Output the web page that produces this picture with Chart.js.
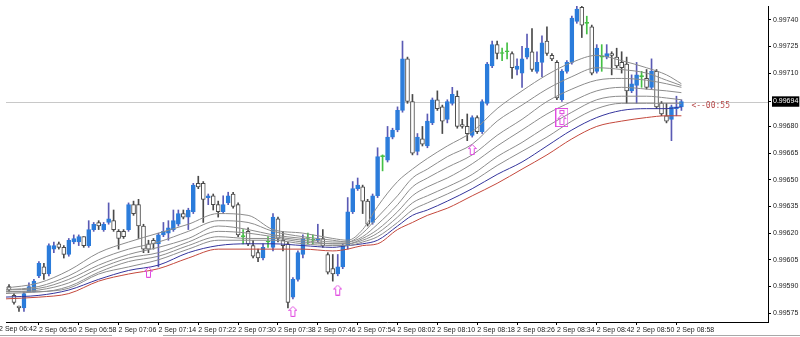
<!DOCTYPE html>
<html>
<head>
<meta charset="utf-8">
<title>M1 candles</title>
<script src="https://cdn.jsdelivr.net/npm/chart.js@4.4.1/dist/chart.umd.min.js"></script>
<style>
  html, body { margin: 0; padding: 0; background: #fff; }
  #wrap { width: 800px; height: 337px; }
</style>
</head>
<body>
<div id="wrap"><canvas id="chart" width="800" height="337"></canvas></div>
<script>
// prices are in points (1 point = 0.00001)
const firstBar = 2; // minute index of first candle (06:44), bar 0 = 06:42

const opens = [99590,99585,99579,99578,99587,99587,99596,99601,99597,99611,
  99614,99612,99608,99615,99615,99618,99613,99622,99626,99622,
  99626,99627,99621,99621,99622,99636,99636,99624,99614,99616,
  99614,99619,99620,99622,99625,99631,99629,99632,99648,99648,
  99640,99641,99636,99632,99637,99642,99636,99618,99621,99613,
  99609,99606,99615,99612,99628,99616,99614,99584,99594,99608,
  99617,99616,99616,99617,99608,99600,99597,99601,99613,99632,
  99645,99646,99638,99626,99641,99663,99661,99674,99678,99689,
  99718,99694,99666,99673,99669,99682,99695,99691,99684,99693,
  99697,99681,99680,99675,99685,99677,99693,99714,99726,99721,
  99722,99721,99712,99710,99719,99722,99711,99716,99728,99720,
  99716,99695,99711,99716,99739,99747,99738,99736,99711,99719,
  99719,99721,99719,99716,99715,99700,99703,99708,99707,99702,
  99711,99693,99686,99684,99690,99691];

const highs = [99591,99586,99579,99587,99592,99594,99604,99603,99614,99615,
  99615,99613,99617,99619,99619,99618,99627,99626,99627,99626,
  99637,99633,99622,99622,99637,99638,99639,99625,99616,99617,
  99620,99626,99627,99633,99633,99633,99634,99648,99652,99649,
  99642,99642,99638,99641,99643,99643,99637,99622,99623,99616,
  99611,99614,99618,99631,99629,99621,99615,99595,99610,99619,
  99620,99619,99625,99622,99609,99608,99608,99614,99640,99649,
  99651,99647,99639,99642,99668,99664,99680,99679,99691,99728,
  99719,99698,99676,99680,99687,99696,99700,99692,99695,99702,
  99700,99684,99687,99686,99686,99695,99716,99728,99728,99724,
  99727,99722,99718,99725,99732,99735,99722,99731,99736,99721,
  99717,99712,99717,99742,99748,99749,99742,99737,99726,99726,
  99726,99722,99724,99722,99719,99709,99716,99711,99712,99718,
  99712,99694,99693,99692,99697,99695];

const lows = [99587,99580,99576,99576,99587,99587,99595,99594,99596,99609,
  99611,99606,99607,99614,99613,99612,99612,99621,99622,99621,
  99625,99621,99611,99617,99621,99630,99617,99609,99609,99611,
  99601,99618,99616,99621,99624,99628,99622,99631,99645,99626,
  99636,99633,99629,99631,99636,99634,99618,99614,99613,99606,
  99604,99605,99612,99610,99615,99610,99578,99583,99593,99606,
  99614,99614,99615,99612,99597,99593,99596,99600,99611,99631,
  99644,99631,99624,99625,99640,99655,99660,99673,99677,99688,
  99693,99664,99664,99669,99668,99681,99689,99676,99682,99692,
  99679,99679,99672,99674,99676,99676,99692,99713,99718,99717,
  99718,99707,99709,99702,99718,99711,99710,99708,99720,99717,
  99695,99694,99710,99715,99738,99730,99732,99709,99710,99711,
  99718,99709,99713,99710,99693,99699,99693,99702,99701,99701,
  99690,99686,99682,99672,99686,99689];

const closes = [99588,99581,99578,99586,99590,99593,99603,99597,99613,99613,
  99612,99608,99616,99617,99618,99613,99622,99625,99624,99625,
  99628,99622,99617,99618,99636,99631,99624,99611,99611,99614,
  99619,99621,99623,99627,99631,99629,99633,99647,99646,99639,
  99641,99636,99632,99636,99641,99635,99619,99618,99614,99607,
  99606,99612,99615,99629,99617,99613,99581,99594,99609,99617,
  99617,99616,99617,99613,99598,99597,99601,99613,99632,99645,
  99647,99638,99625,99641,99663,99663,99674,99678,99689,99718,
  99694,99665,99674,99670,99683,99695,99690,99683,99694,99698,
  99680,99680,99676,99685,99677,99694,99715,99726,99721,99721,
  99722,99713,99714,99718,99724,99712,99716,99727,99721,99718,
  99696,99711,99716,99741,99746,99737,99738,99710,99724,99719,
  99721,99720,99714,99713,99700,99704,99709,99708,99702,99711,
  99691,99687,99683,99691,99691,99694];

// moving averages, read at these bars
const maBars = [1, 8, 14, 20, 26, 32, 38, 44, 50, 55, 61, 67, 70, 73, 76, 80, 83, 86, 90, 95, 100, 105, 110, 115, 120, 125, 130, 134, 137];
const maGray1 = [99589,99592,99599,99609,99615,99620,99625,99631,99630,99622,99620,99617,99616,99622,99635,99649,99656,99662,99669,99677,99690,99700,99709,99716,99720,99717,99713,99709,99704];
const maGray2 = [99588,99590,99596,99605,99611,99615,99621,99627,99626,99621,99618,99616,99615,99620,99629,99641,99651,99656,99663,99670,99683,99692,99701,99708,99713,99712,99710,99706,99703];
const maGray3 = [99588,99589,99594,99602,99608,99612,99617,99624,99622,99619,99617,99615,99615,99618,99625,99636,99646,99651,99657,99664,99675,99684,99694,99701,99706,99707,99706,99704,99702];
const maGray4 = [99587,99588,99592,99600,99606,99609,99615,99621,99620,99618,99616,99614,99614,99617,99622,99632,99641,99646,99651,99659,99669,99678,99687,99694,99700,99702,99701,99700,99699];
const maGray5 = [99587,99587,99590,99598,99604,99607,99613,99618,99617,99617,99615,99614,99614,99616,99620,99629,99637,99641,99646,99653,99663,99671,99680,99688,99695,99697,99697,99696,99695];
const maGray6 = [99586,99587,99589,99597,99601,99605,99611,99616,99616,99616,99614,99613,99613,99615,99618,99626,99633,99637,99642,99649,99658,99666,99674,99683,99690,99693,99693,99693,99693];
const maBlue  = [99584,99585,99588,99594,99599,99602,99609,99613,99614,99614,99613,99612,99613,99614,99616,99624,99630,99633,99638,99645,99653,99660,99669,99678,99685,99689,99690,99690,99691];
const maRed   = [99583,99584,99586,99593,99597,99600,99606,99611,99611,99611,99611,99610,99611,99613,99614,99622,99626,99630,99634,99641,99648,99656,99664,99673,99680,99683,99685,99686,99686];

// signal arrows
const arrowBars = [30, 59, 68, 95, 113];
const arrowPrices = [99598, 99576, 99588, 99667, 99685];
const boxedArrow = 4;

const bid = 99694;
const countdownText = '<--00:55';

const tickBars = [0, 8, 16, 24, 32, 40, 48, 56, 64, 72, 80, 88, 96, 104, 112, 120, 128, 136];
const tickLabels = ['2 Sep 06:42', '2 Sep 06:50', '2 Sep 06:58', '2 Sep 07:06', '2 Sep 07:14', '2 Sep 07:22',
  '2 Sep 07:30', '2 Sep 07:38', '2 Sep 07:46', '2 Sep 07:54', '2 Sep 08:02', '2 Sep 08:10',
  '2 Sep 08:18', '2 Sep 08:26', '2 Sep 08:34', '2 Sep 08:42', '2 Sep 08:50', '2 Sep 08:58'];
const priceTicks = [99575, 99590, 99605, 99620, 99635, 99650, 99665, 99680, 99710, 99725, 99740];

const BULL = '#2b7cdb', BULL_WICK = '#5a5ab4', BEAR = '#4a4a4a', DOJI = '#44c044';
const FONT = '"Liberation Sans", Arial, sans-serif';

function kind(i) {
  if (closes[i] > opens[i]) return 'bull';
  if (closes[i] < opens[i]) return 'bear';
  return 'doji';
}

function makeArrow(boxed) {
  const c = document.createElement('canvas');
  const w = boxed ? 13 : 9, h = boxed ? 19 : 11;
  c.width = w; c.height = h;
  const g = c.getContext('2d');
  g.strokeStyle = '#e04ce0';
  g.lineWidth = 1;
  const ox = boxed ? 2 : 0, oy = boxed ? 6 : 0;
  g.beginPath();
  g.moveTo(ox + 4.5, oy + 0.5);
  g.lineTo(ox + 8.5, oy + 4.5);
  g.lineTo(ox + 6.5, oy + 4.5);
  g.lineTo(ox + 6.5, oy + 10.5);
  g.lineTo(ox + 2.5, oy + 10.5);
  g.lineTo(ox + 2.5, oy + 4.5);
  g.lineTo(ox + 0.5, oy + 4.5);
  g.closePath();
  g.stroke();
  if (boxed) {
    g.strokeRect(0.5, 0.5, w - 1, h - 1);
    g.strokeRect(4.5, 2.5, 4, 3);
  }
  return c;
}
const arrowImg = makeArrow(false);
const boxImg = makeArrow(true);

const wickData = highs.map((h, i) => ({ x: firstBar + i, y: [lows[i], h] }));
const bodyData = opens.map((o, i) => ({ x: firstBar + i, y: [o, closes[i]] }));
const maLine = (vals) => maBars.map((b, i) => ({ x: b, y: vals[i] }));

function lineSet(vals, color) {
  return {
    type: 'line', data: maLine(vals), borderColor: color, borderWidth: 1,
    pointRadius: 0, cubicInterpolationMode: 'monotone', order: 0
  };
}

const X_MIN = 7 / 5.02, X_MAX = 775 / 5.02;

// current price line, countdown text, cut-off first time label, window border
const extras = {
  id: 'extras',
  beforeDatasetsDraw(chart) {
    const { ctx, chartArea, scales: { y } } = chart;
    const py = Math.round(y.getPixelForValue(bid)) + 0.5;
    ctx.save();
    ctx.strokeStyle = '#c8c8c8';
    ctx.lineWidth = 1;
    ctx.beginPath();
    ctx.moveTo(chartArea.left, py);
    ctx.lineTo(chartArea.right, py);
    ctx.stroke();
    ctx.restore();
  },
  afterDatasetsDraw(chart) {
    const { ctx, scales: { x, y } } = chart;
    const lastBar = firstBar + closes.length - 1;
    ctx.save();
    ctx.fillStyle = '#b84c4c';
    ctx.font = '8px "DejaVu Sans Mono", monospace';
    ctx.textBaseline = 'middle';
    ctx.fillText(countdownText, x.getPixelForValue(lastBar) + 10, y.getPixelForValue(bid) + 4.5);
    ctx.restore();
  },
  afterDraw(chart) {
    const { ctx, scales: { x } } = chart;
    ctx.save();
    ctx.fillStyle = '#1a1a1a';
    ctx.font = '7px ' + FONT;
    ctx.textBaseline = 'top';
    tickBars.forEach((b, i) => {
      if (b < X_MIN) ctx.fillText(tickLabels[i], x.getPixelForValue(b), x.top + 4);
    });
    ctx.strokeStyle = '#a8a8a8';
    ctx.beginPath();
    ctx.moveTo(0, 335.5); ctx.lineTo(112, 335.5);
    ctx.moveTo(163, 335.5); ctx.lineTo(800, 335.5);
    ctx.stroke();
    ctx.restore();
  }
};

const tickFont = { family: FONT, size: 7 };

new Chart(document.getElementById('chart'), {
  type: 'bar',
  data: {
    datasets: [
      lineSet(maGray1, '#8c8c8c'),
      lineSet(maGray2, '#8c8c8c'),
      lineSet(maGray3, '#8c8c8c'),
      lineSet(maGray4, '#8c8c8c'),
      lineSet(maGray5, '#8c8c8c'),
      lineSet(maGray6, '#8c8c8c'),
      lineSet(maBlue, '#34349c'),
      lineSet(maRed, '#c4483c'),
      {
        type: 'scatter',
        data: arrowBars.map((b, i) => ({ x: b, y: arrowPrices[i] })),
        pointStyle: ctx => ctx.dataIndex === boxedArrow ? boxImg : arrowImg,
        pointRadius: 5,
        order: -1
      },
      {
        type: 'bar',
        data: bodyData,
        grouped: false,
        barThickness: 4,
        minBarLength: 1,
        borderWidth: 1,
        borderSkipped: false,
        backgroundColor: ctx => ({ bull: BULL, bear: '#ffffff', doji: DOJI })[kind(ctx.dataIndex)],
        borderColor: ctx => ({ bull: BULL, bear: BEAR, doji: DOJI })[kind(ctx.dataIndex)],
        order: 1
      },
      {
        type: 'bar',
        data: wickData,
        grouped: false,
        barThickness: 1,
        borderWidth: 0,
        backgroundColor: ctx => ({ bull: BULL_WICK, bear: BEAR, doji: DOJI })[kind(ctx.dataIndex)],
        order: 2
      }
    ]
  },
  options: {
    responsive: false,
    animation: false,
    layout: { padding: 0 },
    plugins: { legend: { display: false }, tooltip: { enabled: false } },
    scales: {
      x: {
        type: 'linear',
        position: 'bottom',
        min: X_MIN,
        max: X_MAX,
        bounds: 'data',
        offset: false,
        afterBuildTicks: s => { s.ticks = tickBars.filter(v => v >= X_MIN).map(v => ({ value: v })); },
        afterFit: s => { s.height = 15; s.paddingLeft = 0; s.paddingRight = 0; },
        ticks: {
          autoSkip: false, maxRotation: 0, minRotation: 0, align: 'start', padding: 1,
          font: tickFont, color: '#1a1a1a',
          callback: v => tickLabels[tickBars.indexOf(v)]
        },
        grid: { offset: false, drawOnChartArea: false, tickLength: 3, color: '#000' },
        border: { color: '#000' }
      },
      y: {
        type: 'linear',
        position: 'right',
        min: 99570.02,
        max: 99747.73,
        bounds: 'data',
        afterBuildTicks: s => { s.ticks = priceTicks.concat([bid]).map(v => ({ value: v })); },
        afterFit: s => { s.width = 32; s.paddingTop = 0; s.paddingBottom = 0; },
        ticks: {
          font: tickFont,
          padding: 2,
          color: ctx => (ctx.tick && ctx.tick.value === bid) ? '#fff' : '#1a1a1a',
          showLabelBackdrop: ctx => !!(ctx.tick && ctx.tick.value === bid),
          backdropColor: '#000',
          backdropPadding: { x: 1, y: 1 },
          callback: v => (v / 100000).toFixed(5)
        },
        grid: { drawOnChartArea: false, tickLength: 3, color: '#000' },
        border: { color: '#000' }
      }
    }
  },
  plugins: [extras]
});
</script>
</body>
</html>
